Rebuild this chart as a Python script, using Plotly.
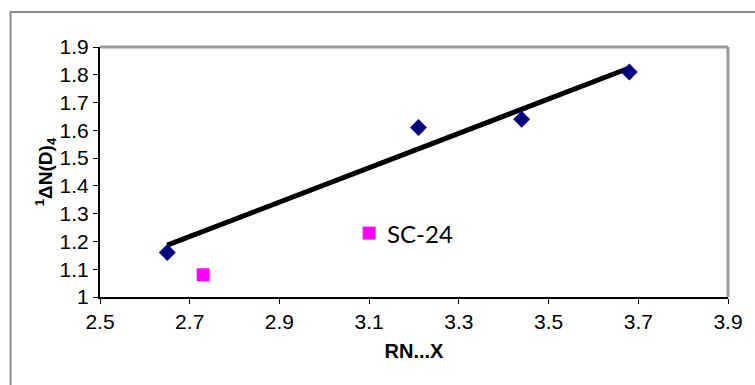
import numpy as np
import plotly.graph_objects as go

# Data
blue_x = [2.65, 3.21, 3.44, 3.68]
blue_y = [1.16, 1.61, 1.64, 1.81]
pink_x = [2.73, 3.10]
pink_y = [1.08, 1.23]
pink_labels = ["", "SC-24"]
x_ticks = [2.5, 2.7, 2.9, 3.1, 3.3, 3.5, 3.7, 3.9]
y_ticks = [1, 1.1, 1.2, 1.3, 1.4, 1.5, 1.6, 1.7, 1.8, 1.9]

# Linear trendline through the blue series
slope, intercept = np.polyfit(blue_x, blue_y, 1)
trend_x = [min(blue_x), max(blue_x)]
trend_y = [slope * v + intercept for v in trend_x]

W, H = 755, 385
ML, MR, MT, MB = 100, 23, 47, 88
pw, ph = W - ML - MR, H - MT - MB

fig = go.Figure()
fig.add_trace(go.Scatter(
    x=trend_x, y=trend_y, mode="lines",
    line=dict(color="black", width=5), showlegend=False, hoverinfo="skip"))
fig.add_trace(go.Scatter(
    x=blue_x, y=blue_y, mode="markers",
    marker=dict(symbol="diamond", size=13, color="#000080"),
    showlegend=False))
fig.add_trace(go.Scatter(
    x=pink_x, y=pink_y, mode="markers",
    marker=dict(symbol="square", size=13, color="#FF00FF"),
    showlegend=False))
for px_, py_, lab in zip(pink_x, pink_y, pink_labels):
    if lab:
        fig.add_annotation(x=px_, y=py_, text=lab, showarrow=False,
                           xanchor="left", yanchor="middle", xshift=16,
                           font=dict(family="Lato", size=24, color="black"))

axis_font = dict(family="Liberation Sans, Arial", size=21, color="black")
fig.update_xaxes(
    range=[2.5, 3.9], tickvals=x_ticks, ticktext=[f"{v:g}" for v in x_ticks],
    showgrid=False, zeroline=False, showline=True, linecolor="black", linewidth=2,
    ticks="outside", ticklen=5, tickcolor="black", tickwidth=1,
    tickfont=axis_font,
    title=dict(text="<b>RN...X</b>", font=dict(family="Liberation Sans, Arial", size=20, color="black"), standoff=12))
fig.update_yaxes(
    range=[1, 1.9], tickvals=y_ticks, ticktext=[f"{v:g}" for v in y_ticks],
    showgrid=False, zeroline=False, showline=True, linecolor="black", linewidth=2,
    ticks="outside", ticklen=5, tickcolor="black", tickwidth=1,
    tickfont=axis_font,
    title=dict(text="<b><sup>1</sup>ΔN(D)<sub>4</sub></b>", font=dict(family="Liberation Sans, Arial", size=19, color="black"), standoff=2))

# outer chart border (extends beyond the visible window on the right/bottom)
fig.add_shape(type="rect", xref="paper", yref="paper",
              x0=(10 - ML) / pw, x1=(W + 20 - ML) / pw,
              y0=-(MB + 20) / ph, y1=(H - 12 - MB) / ph,
              line=dict(color="#8c8c8c", width=2), layer="below")
# plot area top and right borders
fig.add_shape(type="line", xref="paper", yref="paper", x0=0, x1=1, y0=1, y1=1,
              line=dict(color="#999999", width=3))
fig.add_shape(type="line", xref="paper", yref="paper", x0=1, x1=1, y0=0, y1=1,
              line=dict(color="#999999", width=3))

fig.update_layout(
    width=W, height=H, margin=dict(l=ML, r=MR, t=MT, b=MB),
    paper_bgcolor="white", plot_bgcolor="white",
    font=dict(family="Liberation Sans, Arial", color="black"))

fig.write_html("out.html",
               config={"displayModeBar": False},
               post_script="document.body.style.margin='0';document.body.style.overflow='hidden';")
